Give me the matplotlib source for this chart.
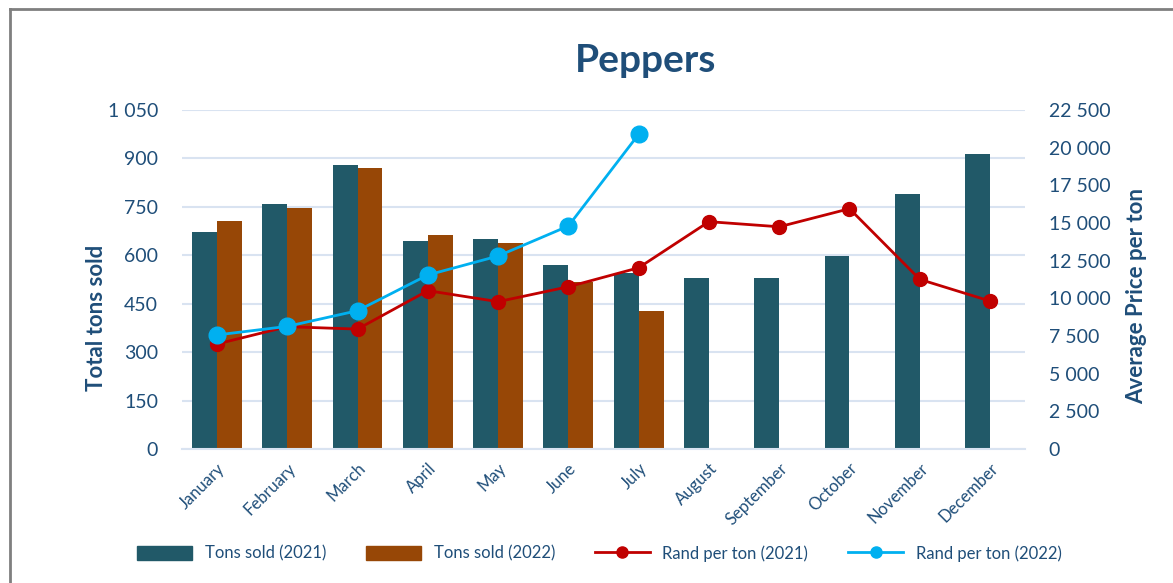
import matplotlib
matplotlib.use('Agg')
import numpy as np
from matplotlib import pyplot
from matplotlib.lines import Line2D
from matplotlib.patches import Patch
from matplotlib.ticker import FuncFormatter

months = ['January', 'February', 'March', 'April', 'May', 'June', 'July',
          'August', 'September', 'October', 'November', 'December']
tons_2021 = [673, 760, 880, 645, 651, 569, 544, 529, 530, 597, 790, 913]
tons_2022 = [707, 747, 870, 664, 638, 518, 428]
rand_2021 = [6970, 8120, 7960, 10510, 9780, 10770, 12030, 15090, 14750, 15950, 11260, 9820]
rand_2022 = [7570, 8140, 9180, 11550, 12810, 14800, 20890]

txt = '#1F4E79'
teal = '#215968'
brown = '#974706'
red = '#C00000'
blue = '#00B0F0'
grid = '#D9E3F1'

pyplot.rcParams['font.family'] = ['Lato', 'DejaVu Sans']

fig = pyplot.figure(figsize=(11.73, 5.83), dpi=100)
ax = fig.add_axes([0.155, 0.2298, 0.719, 0.5815])
ax2 = ax.twinx()

x = np.arange(len(months))
w = 0.355
ax.bar(x - w / 2, tons_2021, w, color=teal, zorder=2)
ax.bar(x[:len(tons_2022)] + w / 2, tons_2022, w, color=brown, zorder=2)

ax2.plot(x, rand_2021, color=red, lw=2, marker='o', ms=10, zorder=3)
ax2.plot(x[:len(rand_2022)], rand_2022, color=blue, lw=2, marker='o', ms=12, zorder=4)

ax.set_xlim(-0.5, len(months) - 0.5)
ax.set_ylim(0, 1050)
ax.set_yticks(np.arange(0, 1051, 150))
ax2.set_ylim(0, 22500)
ax2.set_yticks(np.arange(0, 22501, 2500))

fmt = FuncFormatter(lambda v, p: '{:,.0f}'.format(v).replace(',', ' '))
ax.yaxis.set_major_formatter(fmt)
ax2.yaxis.set_major_formatter(fmt)

ax.set_axisbelow(True)
ax.grid(axis='y', color=grid, lw=1.5, zorder=0)
for a in (ax, ax2):
    for s in a.spines.values():
        s.set_visible(False)
ax.spines['bottom'].set_visible(True)
ax.spines['bottom'].set_color(grid)
ax.spines['bottom'].set_linewidth(1.5)

ax.tick_params(axis='y', length=0, pad=17, labelsize=14, labelcolor=txt)
ax2.tick_params(axis='y', length=0, pad=17, labelsize=14, labelcolor=txt)
ax.tick_params(axis='x', length=0, pad=8)
ax.set_xticks(x)
ax.set_xticklabels(months, rotation=45, ha='right', rotation_mode='anchor',
                   fontsize=12, color=txt)

fig.text(0.082, 0.455, 'Total tons sold', rotation=90, ha='center', va='center',
         fontsize=16, fontweight='bold', color=txt)
fig.text(0.969, 0.492, 'Average Price per ton', rotation=90, ha='center', va='center',
         fontsize=16, fontweight='bold', color=txt)
fig.text(0.55, 0.897, 'Peppers', ha='center', va='center', fontsize=28,
         fontweight='bold', color=txt)

handles = [Patch(color=teal), Patch(color=brown),
           Line2D([], [], color=red, lw=2, marker='o', ms=8),
           Line2D([], [], color=blue, lw=2, marker='o', ms=8)]
labels = ['Tons sold (2021)', 'Tons sold (2022)', 'Rand per ton (2021)', 'Rand per ton (2022)']
leg = fig.legend(handles, labels, loc='center', bbox_to_anchor=(0.511, 0.051), ncol=4,
                 frameon=False, fontsize=12, handlelength=3.3, handleheight=0.9,
                 handletextpad=0.75, columnspacing=2.4, labelcolor=txt)

# outer frame (left and top edge only)
fig.add_artist(Line2D([0.0085, 0.0085], [0, 0.984], color='#7F7F7F', lw=2,
                      transform=fig.transFigure))
fig.add_artist(Line2D([0.0085, 1.0], [0.984, 0.984], color='#7F7F7F', lw=2,
                      transform=fig.transFigure))

fig.savefig('out.png', dpi=100, facecolor='white')
